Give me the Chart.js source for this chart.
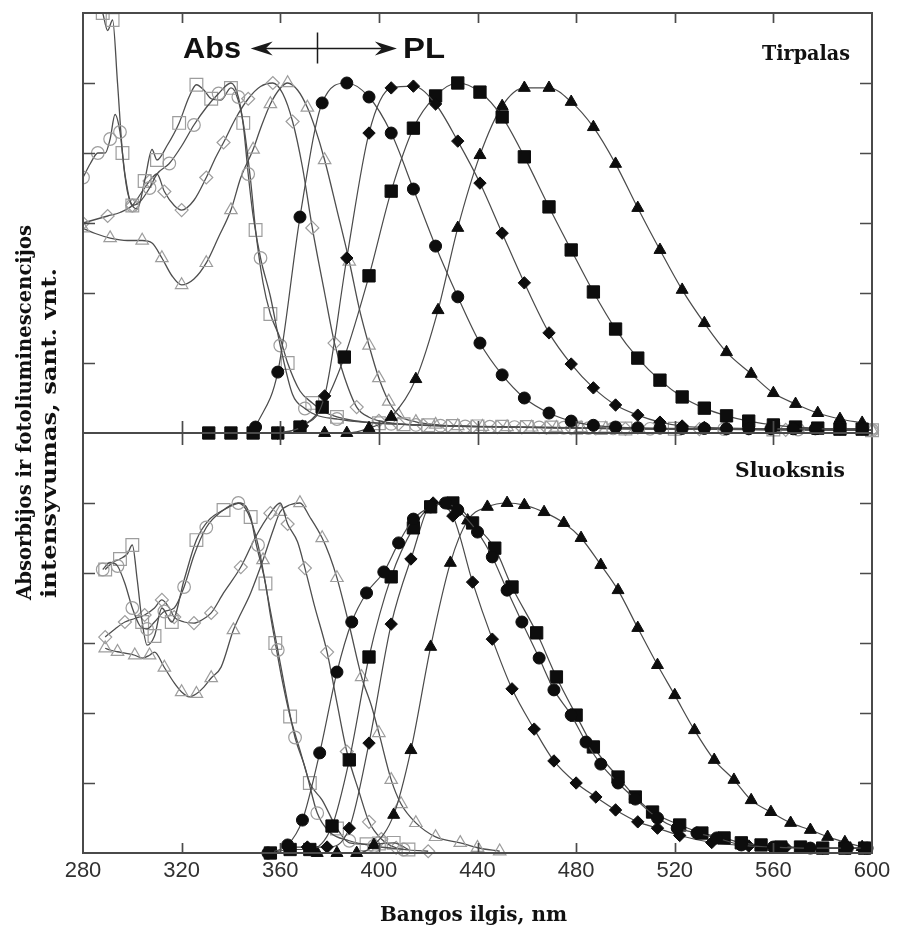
<!DOCTYPE html>
<html>
<head>
<meta charset="utf-8">
<script src="https://cdn.jsdelivr.net/npm/chart.js@4.4.1/dist/chart.umd.min.js"></script>
<style>
html,body{margin:0;padding:0;background:#fff;}
#wrap{position:relative;width:897px;height:928px;overflow:hidden;background:#fff;}
#wrap canvas{position:absolute;left:0;top:0;}
</style>
</head>
<body>
<div id="wrap">
<canvas id="cBot" width="897" height="928"></canvas>
<canvas id="cTop" width="897" height="928"></canvas>
</div>
<script>
// ---------- axis ticks ----------
const xTickValues = [280, 320, 360, 400, 440, 480, 520, 560, 600];
const yTickValues = [0, 0.2, 0.4, 0.6, 0.8, 1.0, 1.2];

// ---------- Top panel (Tirpalas) : absorption (open symbols) ----------
const topAbsSqNm  = [280,284,288,290,292,294,296,298,300,302,305,308,310,314,319,323,326,329,332,336,340,342,345,348,350,353,356,360,363,368,373,378,383,390,400,410,420,430,440,450,460,470,480,490,500,520,560,600];
const topAbsSqVal = [1.32,1.28,1.20,1.15,1.18,1.00,0.80,0.69,0.65,0.64,0.72,0.81,0.78,0.82,0.886,0.96,0.995,0.98,0.955,0.951,0.986,0.97,0.886,0.72,0.58,0.43,0.34,0.27,0.20,0.12,0.086,0.06,0.046,0.035,0.028,0.025,0.022,0.02,0.019,0.018,0.017,0.016,0.015,0.014,0.013,0.012,0.01,0.008];
const topAbsCirNm  = [280,283,286,289,291,293,295,297,300,303,307,310,315,320,325,330,335,340,343,345,347,349,352,356,360,365,370,375,383,390,405,415,425,435,445,455,465,475,485,495,510,540,570,600];
const topAbsCirVal = [0.73,0.77,0.80,0.80,0.84,0.91,0.86,0.74,0.65,0.66,0.70,0.74,0.77,0.82,0.88,0.93,0.97,1.00,0.96,0.88,0.74,0.62,0.50,0.39,0.25,0.11,0.07,0.05,0.04,0.033,0.026,0.023,0.021,0.019,0.018,0.017,0.016,0.015,0.014,0.013,0.012,0.011,0.01,0.008];
const topAbsDiaNm  = [280,285,290,295,300,304,307,310,313,317,320,325,330,334,337,342,347,352,357,361,365,369,373,378,382,386,391,396,400,408,418,428,438,448,458,468,478,488,500,530,565,600];
const topAbsDiaVal = [0.60,0.61,0.62,0.63,0.65,0.69,0.72,0.74,0.69,0.65,0.637,0.665,0.73,0.79,0.83,0.90,0.955,0.99,1.00,0.97,0.89,0.76,0.586,0.40,0.257,0.16,0.074,0.045,0.035,0.026,0.022,0.02,0.018,0.017,0.016,0.015,0.014,0.013,0.012,0.011,0.009,0.008];
const topAbsTriNm  = [280,285,291,298,304,308,312,316,320,325,330,335,340,344,349,352,356,360,363,367,371,374,378,383,388,392,396,400,404,408,415,423,432,442,452,462,472,482,492,505,540,570,600];
const topAbsTriVal = [0.585,0.57,0.557,0.55,0.55,0.543,0.50,0.45,0.423,0.44,0.486,0.56,0.637,0.73,0.81,0.87,0.94,0.985,1.00,0.98,0.93,0.874,0.78,0.637,0.49,0.357,0.25,0.157,0.09,0.051,0.032,0.024,0.02,0.018,0.017,0.016,0.015,0.014,0.013,0.012,0.011,0.009,0.008];

// ---------- Top panel : photoluminescence (filled symbols) ----------
const topPlCirNm  = [350,359,368,377,387,396,405,414,423,432,441,450,459,469,478,487,496,505,514,523,532,541,550,559,568,577,587,596];
const topPlCirVal = [0.017,0.174,0.617,0.943,1.0,0.96,0.857,0.697,0.534,0.389,0.257,0.166,0.10,0.057,0.034,0.022,0.017,0.015,0.014,0.013,0.013,0.012,0.012,0.012,0.012,0.012,0.012,0.012];
const topPlDiaNm  = [359,369,378,387,396,405,414,423,432,441,450,459,469,478,487,496,505,514,523,532,541,550,559,569,578,587,596];
const topPlDiaVal = [0.0,0.02,0.106,0.5,0.857,0.986,0.991,0.94,0.834,0.714,0.571,0.429,0.286,0.197,0.129,0.08,0.051,0.031,0.02,0.016,0.014,0.013,0.012,0.012,0.012,0.012,0.012];
const topPlSqNm   = [331,340,349,359,368,377,386,396,405,414,423,432,441,450,459,469,478,487,496,505,514,523,532,541,550,560,569,578,587,596];
const topPlSqVal  = [0,0,0,0,0.017,0.074,0.217,0.449,0.691,0.871,0.963,1.0,0.974,0.903,0.789,0.646,0.523,0.403,0.297,0.214,0.151,0.103,0.071,0.049,0.034,0.023,0.017,0.014,0.011,0.011];
const topPlTriNm  = [378,387,396,405,415,424,432,441,450,459,469,478,487,496,505,514,523,532,541,551,560,569,578,587,596];
const topPlTriVal = [0,0,0.014,0.046,0.154,0.351,0.586,0.794,0.934,0.986,0.986,0.946,0.874,0.769,0.643,0.523,0.409,0.314,0.231,0.169,0.114,0.083,0.057,0.04,0.029];

// ---------- Bottom panel (Sluoksnis) : absorption ----------
const botAbsSqNm  = [289,292,295,298,300,302,304,306,309,312,316,321,326,331,337,344,348,350,354,356,358,361,364,368,372,377,383,388,395,400,406,412];
const botAbsSqVal = [0.81,0.83,0.84,0.855,0.88,0.78,0.66,0.594,0.62,0.70,0.66,0.78,0.894,0.951,0.98,1.0,0.96,0.89,0.77,0.68,0.60,0.486,0.39,0.294,0.2,0.151,0.07,0.029,0.025,0.027,0.029,0.01];
const botAbsCirNm  = [288,291,294,297,300,303,306,309,313,317,321,325,330,336,343,347,351,355,359,363,366,370,375,380,388,398,410];
const botAbsCirVal = [0.81,0.83,0.82,0.77,0.70,0.65,0.64,0.66,0.69,0.70,0.76,0.85,0.93,0.975,1.0,0.97,0.88,0.73,0.58,0.43,0.33,0.246,0.114,0.06,0.035,0.02,0.01];
const botAbsDiaNm  = [289,293,297,301,305,309,312,315,317,321,325,328,332,337,344,350,356,360,363,367,370,374,379,383,387,392,396,401,407,420];
const botAbsDiaVal = [0.617,0.64,0.66,0.67,0.68,0.70,0.723,0.70,0.674,0.66,0.657,0.665,0.686,0.743,0.817,0.903,0.971,1.0,0.94,0.889,0.814,0.703,0.574,0.429,0.29,0.174,0.089,0.04,0.015,0.005];
const botAbsTriNm  = [289,291,294,297,301,304,307,309,313,317,320,323,326,329,332,336,341,348,353,357,360,364,368,372,377,380,383,388,393,397,400,405,409,415,423,433,440,449];
const botAbsTriVal = [0.585,0.58,0.575,0.571,0.565,0.557,0.565,0.574,0.53,0.486,0.46,0.446,0.455,0.474,0.50,0.531,0.637,0.743,0.837,0.92,0.975,0.995,1.0,0.96,0.9,0.85,0.786,0.65,0.503,0.42,0.343,0.209,0.14,0.086,0.046,0.029,0.015,0.005];

// ---------- Bottom panel : photoluminescence ----------
const botPlCirNm  = [355,363,369,376,383,389,395,402,408,414,421,427,432,440,446,452,458,465,471,478,484,490,497,504,513,521,529,537,547,560,575,590,598];
const botPlCirVal = [0.0,0.023,0.094,0.286,0.517,0.66,0.743,0.803,0.886,0.954,0.989,1.0,0.98,0.917,0.846,0.751,0.66,0.557,0.466,0.394,0.317,0.254,0.2,0.154,0.1,0.071,0.057,0.043,0.023,0.017,0.014,0.014,0.014];
const botPlSqNm   = [356,364,372,381,388,396,405,414,421,430,438,447,454,464,472,480,487,497,504,511,522,531,540,547,555,563,571,580,589,597];
const botPlSqVal  = [0.0,0.01,0.01,0.077,0.266,0.56,0.789,0.929,0.989,1.0,0.943,0.871,0.76,0.629,0.503,0.394,0.303,0.217,0.16,0.117,0.08,0.057,0.043,0.029,0.023,0.017,0.017,0.014,0.014,0.014];
const botPlDiaNm  = [363,371,379,388,396,405,413,422,430,438,446,454,463,471,480,488,496,505,513,522,535,550,565,580,597];
const botPlDiaVal = [0.017,0.017,0.017,0.071,0.314,0.654,0.84,1.0,0.963,0.774,0.611,0.469,0.354,0.263,0.2,0.16,0.123,0.089,0.071,0.05,0.03,0.02,0.016,0.014,0.014];
const botPlTriNm  = [375,383,391,398,406,413,421,429,436,444,452,459,467,475,482,490,497,505,513,520,528,536,544,551,559,567,575,582,589,596];
const botPlTriVal = [0,0,0,0.023,0.109,0.294,0.589,0.829,0.95,0.989,1.0,0.994,0.974,0.943,0.9,0.823,0.751,0.643,0.537,0.451,0.351,0.266,0.209,0.151,0.117,0.086,0.066,0.046,0.031,0.017];

// ---------- annotation positions (in data units) ----------
const arrowLeftNm = 348, arrowMidNm = 375, arrowRightNm = 407.3, arrowLevel = 1.1;

// ---------- helpers ----------
const pts = (xs, ys) => xs.map((x, i) => ({x: x, y: ys[i]}));
const MARK = { circle: 6.3, rect: 9, rectRot: 6.5, triangle: 7.2 };

function absSet(xs, ys, style, clip) {
  return {
    data: pts(xs, ys), borderColor: '#4e4e4e', borderWidth: 1.3,
    pointStyle: style,
    pointRadius: c => ((c.dataIndex % 2 === 0 || xs[c.dataIndex] >= 398) ? MARK[style] : 0),
    pointBorderColor: '#9d9d9d', pointBackgroundColor: 'rgba(255,255,255,0)', pointBorderWidth: 1.2,
    cubicInterpolationMode: 'monotone', clip: clip
  };
}
function plSet(xs, ys, style, clip) {
  return {
    data: pts(xs, ys), borderColor: '#4a4a4a', borderWidth: 1.2,
    pointStyle: style, pointRadius: MARK[style] - 0.3,
    pointBorderColor: '#0d0d0d', pointBackgroundColor: '#0d0d0d', pointBorderWidth: 1,
    cubicInterpolationMode: 'monotone', clip: clip
  };
}

function drawFrame(chart, isTop) {
  const {ctx, chartArea: a, scales: {x, y}} = chart;
  ctx.save();
  ctx.strokeStyle = '#4a4a4a';
  ctx.lineWidth = 2;
  ctx.strokeRect(a.left, a.top, a.right - a.left, a.bottom - a.top);
  ctx.lineWidth = 1.7;
  ctx.beginPath();
  yTickValues.forEach(v => {
    if (v <= 0 || v >= 1.2) return;
    const py = Math.round(y.getPixelForValue(v)) + 0.5;
    ctx.moveTo(a.left, py); ctx.lineTo(a.left + 12, py);
    ctx.moveTo(a.right, py); ctx.lineTo(a.right - 12, py);
  });
  xTickValues.forEach(v => {
    if (v <= 280 || v >= 600) return;
    const px = Math.round(x.getPixelForValue(v)) + 0.5;
    if (isTop) {
      ctx.moveTo(px, a.top); ctx.lineTo(px, a.top + 10);
      ctx.moveTo(px, a.bottom - 12); ctx.lineTo(px, a.bottom + 12);
    } else {
      ctx.moveTo(px, a.bottom); ctx.lineTo(px, a.bottom - 10);
    }
  });
  ctx.stroke();
  ctx.restore();
}

const framePluginTop = {
  id: 'frameTop',
  afterDraw(chart) {
    drawFrame(chart, true);
    const {ctx, scales: {x, y}} = chart;
    const yA = Math.round(y.getPixelForValue(arrowLevel)) + 0.5;
    const xl = x.getPixelForValue(arrowLeftNm), xr = x.getPixelForValue(arrowRightNm), xm = Math.round(x.getPixelForValue(arrowMidNm)) + 0.5;
    ctx.save();
    ctx.strokeStyle = '#1a1a1a'; ctx.fillStyle = '#1a1a1a'; ctx.lineWidth = 1.5;
    ctx.beginPath();
    ctx.moveTo(xl + 10, yA); ctx.lineTo(xr - 10, yA);
    ctx.moveTo(xm, yA - 16); ctx.lineTo(xm, yA + 15);
    ctx.stroke();
    const head = (tip, dir) => {
      ctx.beginPath();
      ctx.moveTo(tip, yA);
      ctx.lineTo(tip - dir * 22, yA - 7);
      ctx.lineTo(tip - dir * 15, yA);
      ctx.lineTo(tip - dir * 22, yA + 7);
      ctx.closePath(); ctx.fill();
    };
    head(xl, -1); head(xr, 1);
    ctx.restore();
  }
};
const framePluginBot = { id: 'frameBot', afterDraw(chart) { drawFrame(chart, false); } };

const clipTop = {left: 0, top: 0, right: 10, bottom: 10};
const clipBot = {left: 0, top: 10, right: 10, bottom: 10};

const common = {
  responsive: false, animation: false, devicePixelRatio: 1, events: [],
  plugins: { legend: {display: false}, tooltip: {enabled: false}, title: {display: false} }
};

new Chart(document.getElementById('cTop'), {
  type: 'line',
  data: { datasets: [
    plSet(topPlCirNm, topPlCirVal, 'circle', clipTop),
    plSet(topPlDiaNm, topPlDiaVal, 'rectRot', clipTop),
    plSet(topPlSqNm, topPlSqVal, 'rect', clipTop),
    plSet(topPlTriNm, topPlTriVal, 'triangle', clipTop),
    absSet(topAbsCirNm, topAbsCirVal, 'circle', clipTop),
    absSet(topAbsSqNm, topAbsSqVal, 'rect', clipTop),
    absSet(topAbsDiaNm, topAbsDiaVal, 'rectRot', clipTop),
    absSet(topAbsTriNm, topAbsTriVal, 'triangle', clipTop)
  ]},
  options: Object.assign({}, common, {
    layout: { padding: {left: 83, right: 25, top: 13, bottom: 495} },
    scales: {
      x: { type: 'linear', min: 280, max: 600, display: false },
      y: { type: 'linear', min: 0, max: 1.2, display: false }
    }
  }),
  plugins: [framePluginTop]
});

new Chart(document.getElementById('cBot'), {
  type: 'line',
  data: { datasets: [
    plSet(botPlCirNm, botPlCirVal, 'circle', clipBot),
    plSet(botPlSqNm, botPlSqVal, 'rect', clipBot),
    plSet(botPlDiaNm, botPlDiaVal, 'rectRot', clipBot),
    plSet(botPlTriNm, botPlTriVal, 'triangle', clipBot),
    absSet(botAbsCirNm, botAbsCirVal, 'circle', clipBot),
    absSet(botAbsSqNm, botAbsSqVal, 'rect', clipBot),
    absSet(botAbsDiaNm, botAbsDiaVal, 'rectRot', clipBot),
    absSet(botAbsTriNm, botAbsTriVal, 'triangle', clipBot)
  ]},
  options: Object.assign({}, common, {
    layout: { padding: {left: 83, right: 25, top: 433, bottom: 0} },
    scales: {
      x: {
        type: 'linear', min: 280, max: 600, position: 'bottom',
        afterBuildTicks: s => { s.ticks = xTickValues.map(v => ({value: v})); },
        afterFit: s => { s.height = 75; },
        grid: { display: false, drawTicks: false },
        border: { display: false },
        ticks: { autoSkip: false, maxRotation: 0, padding: 5, color: '#303030',
                 font: { family: '"Liberation Sans", Arial, sans-serif', size: 22 } }
      },
      y: { type: 'linear', min: 0, max: 1.2, display: false }
    }
  }),
  plugins: [framePluginBot]
});

// ---------- text labels ----------
const wrap = document.getElementById('wrap');
const mctx = document.createElement('canvas').getContext('2d');
function addLabel(text, o) {
  const d = document.createElement('div');
  d.textContent = text;
  mctx.font = o.font;
  const w = mctx.measureText(text).width;
  const s = o.width ? o.width / w : 1;
  d.style.cssText = 'position:absolute;white-space:nowrap;font:' + o.font + ';line-height:1;color:' + (o.color || '#111') +
    ';transform-origin:0 50%;height:' + o.size + 'px;left:' + o.left + 'px;top:' + (o.cy - o.size / 2) + 'px;transform:' +
    (o.rotate ? 'rotate(-90deg) ' : '') + 'scaleX(' + s + ');';
  wrap.appendChild(d);
}
const serif = 'bold 20px "DejaVu Serif", "Liberation Serif", serif';
const sans = 'bold 30px "Liberation Sans", Arial, sans-serif';
addLabel('Tirpalas', {font: serif, size: 20, width: 88, left: 762, cy: 53});
addLabel('Sluoksnis', {font: serif, size: 20, width: 110, left: 735, cy: 470});
addLabel('Bangos ilgis, nm', {font: serif, size: 20, width: 187, left: 380, cy: 914});
addLabel('Absorbijos ir fotoliuminescencijos', {font: serif, size: 20, width: 375, left: 24, cy: 600, rotate: true});
addLabel('intensyvumas, sant. vnt.', {font: serif, size: 20, width: 330, left: 49, cy: 598, rotate: true});
addLabel('Abs', {font: sans, size: 30, width: 58, left: 183, cy: 48});
addLabel('PL', {font: sans, size: 30, width: 42, left: 403, cy: 48});
</script>
</body>
</html>
